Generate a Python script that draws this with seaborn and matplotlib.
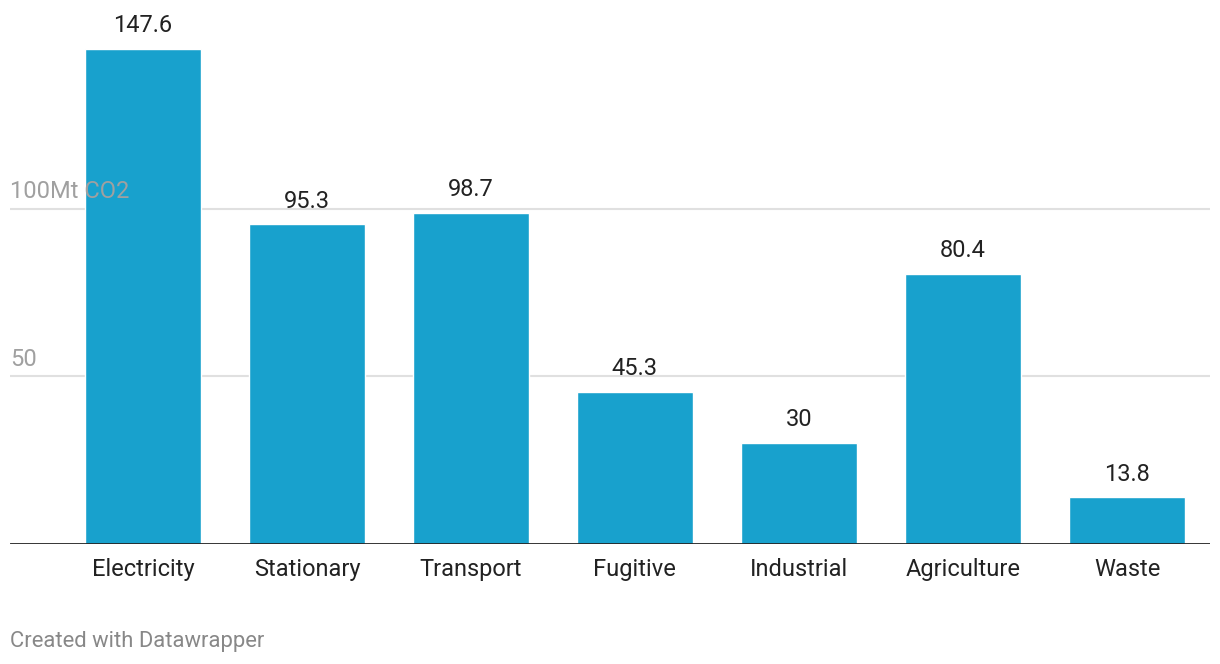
import matplotlib
matplotlib.use("Agg")
import matplotlib.pyplot as plt
import seaborn as sns
import pandas as pd

sns.set_theme(style="white")
plt.rcParams['font.family'] = ['Roboto', 'DejaVu Sans']

# Datos
sectores = ['Electricity', 'Stationary', 'Transport', 'Fugitive', 'Industrial', 'Agriculture', 'Waste']
emisiones = [147.6, 95.3, 98.7, 45.3, 30, 80.4, 13.8]
etiquetas_valor = ['147.6', '95.3', '98.7', '45.3', '30', '80.4', '13.8']
ticks_y = [50, 100]
etiquetas_y = ['50', '100Mt CO2']

df = pd.DataFrame({'Sector': sectores, 'Emisiones': emisiones})

W, H = 1220, 664
fig = plt.figure(figsize=(W / 100, H / 100), dpi=100)
px_por_unidad = 3.35
y_max = 155
alto_px = y_max * px_por_unidad
ax = fig.add_axes([10 / W, 120.5 / H, 1200 / W, alto_px / H])

sns.barplot(data=df, x='Sector', y='Emisiones', color='#18a1cd', saturation=1,
            width=0.71, ax=ax, zorder=2)

ax.set_xlim(-0.81, 6.506)
ax.set_ylim(0, y_max)

# Rejilla y etiquetas del eje y
for v, t in zip(ticks_y, etiquetas_y):
    ax.axhline(v, color='#e0e0e0', lw=1.5, zorder=1)
    ax.text(-0.81, v + 10 / px_por_unidad, t, ha='left', va='baseline',
            fontsize=17, color='#a0a0a0', zorder=3)

ax.set_yticks([])
ax.axhline(0, color='#222222', lw=2, zorder=3)

# Etiquetas de valores
for i, (v, t) in enumerate(zip(emisiones, etiquetas_valor)):
    ax.annotate(t, (i, v), xytext=(0, 12), textcoords='offset points',
                ha='center', va='baseline', fontsize=17, color='#222222')

ax.set_xlabel('')
ax.set_ylabel('')
ax.tick_params(axis='x', length=0, pad=10.5, labelsize=17, labelcolor='#222222')
for s in ax.spines.values():
    s.set_visible(False)

fig.text(10 / W, 1 - 641 / H, 'Created with Datawrapper', ha='left', va='center',
         fontsize=15.8, color='#888888')

fig.savefig('out.png', dpi=100)
